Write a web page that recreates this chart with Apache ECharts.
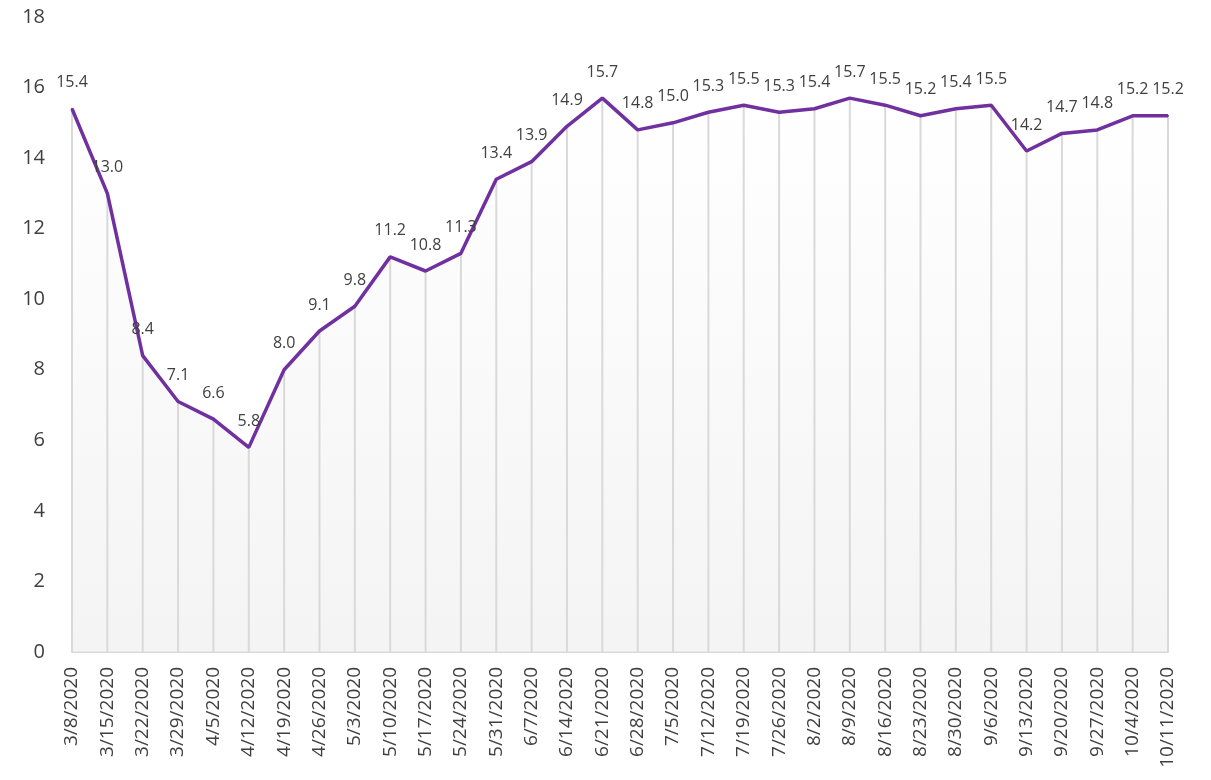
<!DOCTYPE html>
<html>
<head>
<meta charset="utf-8">
<script src="https://cdn.jsdelivr.net/npm/echarts@6/dist/echarts.min.js"></script>
<style>
  html, body { margin: 0; padding: 0; background: #fff; }
  #chart { width: 1211px; height: 780px; }
</style>
</head>
<body>
<div id="chart"></div>
<script>
var weeks = [
  "3/8/2020", "3/15/2020", "3/22/2020", "3/29/2020", "4/5/2020", "4/12/2020",
  "4/19/2020", "4/26/2020", "5/3/2020", "5/10/2020", "5/17/2020", "5/24/2020",
  "5/31/2020", "6/7/2020", "6/14/2020", "6/21/2020", "6/28/2020", "7/5/2020",
  "7/12/2020", "7/19/2020", "7/26/2020", "8/2/2020", "8/9/2020", "8/16/2020",
  "8/23/2020", "8/30/2020", "9/6/2020", "9/13/2020", "9/20/2020", "9/27/2020",
  "10/4/2020", "10/11/2020"
];
var values = [
  15.4, 13.0, 8.4, 7.1, 6.6, 5.8, 8.0, 9.1, 9.8, 11.2, 10.8, 11.3,
  13.4, 13.9, 14.9, 15.7, 14.8, 15.0, 15.3, 15.5, 15.3, 15.4, 15.7, 15.5,
  15.2, 15.4, 15.5, 14.2, 14.7, 14.8, 15.2, 15.2
];
var yTicks = [0, 18, 2]; // min, max, step

var FONT = "'Open Sans', 'Noto Sans', sans-serif";
var chart = echarts.init(document.getElementById("chart"));

chart.setOption({
  backgroundColor: "#fff",
  animation: false,
  grid: { left: 72, right: 43, top: 17, bottom: 128, containLabel: false },
  xAxis: {
    type: "category",
    data: weeks,
    boundaryGap: false,
    axisLine: { show: true, lineStyle: { color: "#d9d9d9", width: 2 } },
    axisTick: { show: false },
    splitLine: { show: false },
    axisLabel: {
      rotate: 90,
      interval: 0,
      margin: 15,
      fontSize: 19,
      color: "#404040",
      fontFamily: FONT
    }
  },
  yAxis: {
    type: "value",
    min: yTicks[0],
    max: yTicks[1],
    interval: yTicks[2],
    axisLine: { show: false },
    axisTick: { show: false },
    splitLine: { show: false },
    axisLabel: { fontSize: 20, color: "#404040", margin: 27, fontFamily: FONT }
  },
  series: [
    {
      // gradient fill under the line
      type: "line",
      data: values,
      symbol: "none",
      z: 1,
      lineStyle: { width: 0 },
      areaStyle: {
        color: new echarts.graphic.LinearGradient(0, 0, 0, 1, [
          { offset: 0, color: "#ffffff" },
          { offset: 1, color: "#efefef" }
        ])
      },
      silent: true
    },
    {
      // drop lines
      type: "bar",
      data: values,
      barWidth: 2,
      z: 2,
      itemStyle: { color: "#d9d9d9" },
      silent: true
    },
    {
      type: "line",
      data: values,
      symbol: "circle",
      symbolSize: 2,
      showSymbol: true,
      showAllSymbol: true,
      itemStyle: { color: "#7030a0" },
      z: 3,
      lineStyle: { color: "#7030a0", width: 3.5 },
      label: {
        show: true,
        position: "top",
        distance: 17,
        fontSize: 16,
        color: "#404040",
        fontFamily: FONT,
        formatter: function (p) { return Number(p.value).toFixed(1); }
      }
    }
  ]
});
</script>
</body>
</html>
